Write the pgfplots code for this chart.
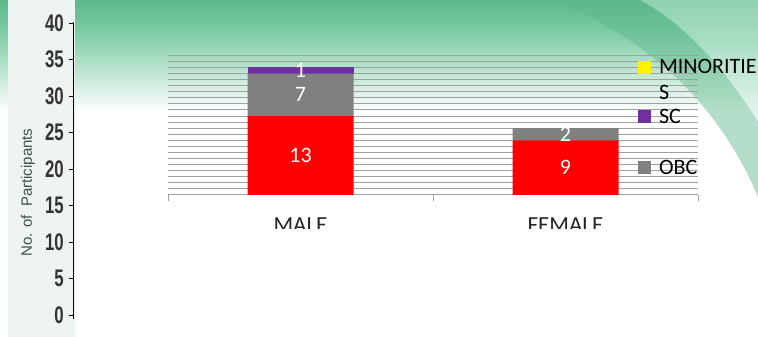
\documentclass[border=0pt]{standalone}
\usepackage{fontspec}
\setmainfont{Carlito}
\newfontfamily\narrow[FakeStretch=0.7]{Liberation Sans}
\newfontfamily\arial{Liberation Sans}
\usepackage{pgfplots}
\pgfplotsset{compat=1.18}
\definecolor{gA}{RGB}{92,184,138}
\definecolor{gB}{RGB}{125,204,165}
\definecolor{gC}{RGB}{200,234,219}
\definecolor{gridc}{RGB}{160,160,160}
\definecolor{scp}{RGB}{112,48,160}
\definecolor{obc}{RGB}{128,128,128}
\definecolor{panel}{RGB}{238,244,242}
\definecolor{lab}{RGB}{62,80,70}
\begin{document}
\begin{tikzpicture}[x=1pt,y=1pt]
\useasboundingbox (0,0) rectangle (758,337);
\fill[white] (0,0) rectangle (758,337);
\shade[top color=gA, bottom color=gB] (0,305) rectangle (758,337);
\shade[top color=gB, bottom color=white] (0,225) rectangle (758,305.5);
\fill[gC, opacity=0.5] (640,337) .. controls (690,310) and (730,260) .. (758,215) -- (758,337) -- cycle;
\fill[gA, opacity=0.45] (550,337) .. controls (650,300) and (720,230) .. (758,140) -- (758,215) .. controls (730,260) and (690,310) .. (640,337) -- cycle;
\fill[panel] (8,0) rectangle (75,337);
\node[rotate=90, font=\arial\fontsize{15}{15}\selectfont, text=lab] at (28,144.5) {No. of\hspace{4pt} Participants};

\begin{axis}[at={(73pt,18.35pt)}, anchor=south west, scale only axis,
  width=5pt, height=297.1pt, xmin=0, xmax=1, ymin=-0.5, ymax=40.2,
  axis x line=none, axis y line*=left, ytick={0,5,...,40},
  tick align=outside, major tick length=4pt,
  y axis line style={black, line width=0.8pt},
  ytick style={black, line width=0.8pt},
  yticklabel style={font=\narrow\bfseries\fontsize{24}{24}\selectfont, text=black!80, inner sep=0pt, xshift=-5pt},
  /pgf/number format/assume math mode=true, clip=false]
\end{axis}

\begin{scope}
\clip (0,108) rectangle (758,337);
\begin{axis}[at={(168pt,142pt)}, anchor=south west, scale only axis,
  width=530pt, height=140pt, xmin=-0.5, xmax=1.5, ymin=0, ymax=23.05,
  ybar stacked, bar width=106pt,
  axis lines*=left,
  y axis line style={draw=none},
  x axis line style={gridc, line width=1pt},
  ytick={1,...,23}, yticklabels={}, ytick style={draw=none},
  ymajorgrids, grid style={gridc, line width=1pt},
  xtick={0,1}, xticklabels={MALE,FEMALE}, xtick style={draw=none},
  xticklabel style={font=\fontsize{23}{23}\selectfont, text=black!85, inner sep=0pt, yshift=-23pt},
  extra x ticks={-0.5,0.5,1.5}, extra x tick labels={},
  extra x tick style={xtick style={draw=gridc, line width=1pt}, major tick length=6pt, tick align=outside, grid=none},
  legend style={at={(axis description cs:0.8868,0.957)}, anchor=north west,
    draw=none, fill=none, inner sep=0pt, outer sep=0pt, row sep=35pt,
    font=\fontsize{22}{22}\selectfont, nodes={inner sep=0pt},
    /tikz/every odd column/.append style={column sep=8pt}},
  legend cell align=left, reverse legend,
  legend image code/.code={\fill[#1, draw=none] (0pt,-6.5pt) rectangle (13pt,6.5pt);},
  clip=false]
\addplot[fill=red, draw=none, forget plot] coordinates {(0,13) (1,9)};
\addplot[fill=obc, draw=none] coordinates {(0,7) (1,2)};
\addlegendentry{OBC}
\addplot[fill=scp, draw=none] coordinates {(0,1) (1,0)};
\addlegendentry{SC}
\addplot[fill=yellow, draw=none] coordinates {(0,0) (1,0)};
\addlegendentry{\raisebox{-6.5pt}[0pt][0pt]{\begin{tabular}[t]{@{}l@{}}MINORITIE\\[4pt]S\end{tabular}}}
\end{axis}
\begin{axis}[at={(168pt,142pt)}, anchor=south west, scale only axis,
  width=530pt, height=140pt, xmin=-0.5, xmax=1.5, ymin=0, ymax=23.05,
  hide axis, clip=false]
\addplot[only marks, mark=*, mark size=0pt, mark options={draw=none, fill=none},
  nodes near coords, point meta=explicit symbolic,
  nodes near coords style={anchor=center, text=white, inner sep=0pt, font=\fontsize{22}{22}\selectfont}]
  coordinates {(0,6.5) [13] (0,16.5) [7] (0,20.5) [1] (1,4.5) [9] (1,10) [2]};
\end{axis}
\end{scope}
\end{tikzpicture}
\end{document}
